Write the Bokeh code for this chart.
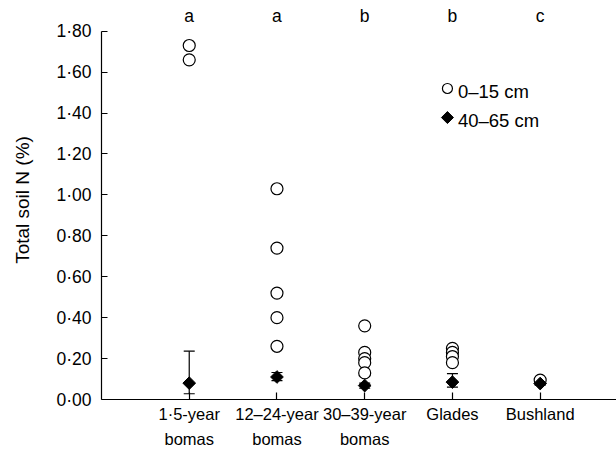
import numpy as np
from bokeh.plotting import figure
from bokeh.models import (Range1d, FixedTicker, CustomJSTickFormatter, ColumnDataSource,
                          Whisker, TeeHead)
from bokeh.core.properties import value
from bokeh.embed import file_html
from bokeh.resources import INLINE

# ---- data ----
categories = ["1·5-year\nbomas", "12–24-year\nbomas", "30–39-year\nbomas", "Glades", "Bushland"]
letters = ["a", "a", "b", "b", "c"]
shallow_0_15 = [
    [1.73, 1.66],
    [1.03, 0.74, 0.52, 0.40, 0.26],
    [0.36, 0.23, 0.20, 0.18, 0.13],
    [0.25, 0.23, 0.21, 0.18],
    [0.095],
]
deep_mean = [0.08, 0.11, 0.068, 0.085, 0.078]
deep_lower = [0.028, 0.092, 0.055, 0.060, 0.070]
deep_upper = [0.236, 0.132, 0.080, 0.126, 0.086]
legend_labels = ["0–15 cm", "40–65 cm"]
y_ticks = [0.0, 0.2, 0.4, 0.6, 0.8, 1.0, 1.2, 1.4, 1.6, 1.8]

FONT = "Liberation Sans"
TICK_FS = "17.5px"

xpos = list(range(1, len(categories) + 1))
sx, sy = [], []
for i, vals in enumerate(shallow_0_15):
    sx += [xpos[i]] * len(vals)
    sy += vals

p = figure(width=616, height=452, output_backend="svg", toolbar_location=None,
           x_range=Range1d(0, 5.87), y_range=Range1d(0, 1.95),
           min_border_left=101, min_border_right=0, min_border_top=0, min_border_bottom=53)
p.outline_line_color = None
p.grid.visible = False
p.background_fill_color = "white"

# error bars
err_src = ColumnDataSource(dict(x=xpos, lower=deep_lower, upper=deep_upper))
w = Whisker(base="x", lower="lower", upper="upper", source=err_src, line_color="black",
            line_width=1.2,
            upper_head=TeeHead(size=11, line_color="black", line_width=1.2),
            lower_head=TeeHead(size=11, line_color="black", line_width=1.2))
p.add_layout(w)

circle_style = dict(marker="circle", size=12, fill_color="white", line_color="black", line_width=1.2)
diamond_style = dict(marker="square", angle=np.pi / 4, size=9, fill_color="black",
                     line_color="black", line_width=1)

p.scatter(sx, sy, **circle_style)
p.scatter(xpos, deep_mean, **diamond_style)

# significance letters
p.text(xpos, [1.875] * len(xpos), text=letters, text_align="center", text_baseline="middle",
       text_font=value(FONT), text_font_size=TICK_FS, text_color="black")

# key (drawn in the plot area, upper right)
kx, ky, kdy = 3.943, 1.52, 0.142
p.scatter([kx], [ky], **{**circle_style, "size": 10})
p.scatter([kx], [ky - kdy], **{**diamond_style, "size": 8.5})
p.text([kx + 0.12, kx + 0.12], [ky - 0.015, ky - kdy - 0.015], text=legend_labels,
       text_align="left", text_baseline="middle", text_font=value(FONT),
       text_font_size="18.5px", text_color="black")

# axes
xa = p.xaxis[0]
xa.ticker = FixedTicker(ticks=xpos)
xa.major_label_overrides = {i: c for i, c in zip(xpos, categories)}
xa.major_tick_in = 7
xa.major_tick_out = 0
xa.minor_tick_line_color = None
xa.axis_line_width = 1.2
xa.major_tick_line_width = 1.2
xa.major_label_text_font = FONT
xa.major_label_text_font_size = "16.5px"
xa.major_label_text_line_height = 1.4
xa.major_label_standoff = 5
xa.major_label_text_color = "black"

ya = p.yaxis[0]
ya.ticker = FixedTicker(ticks=y_ticks)
ya.formatter = CustomJSTickFormatter(code="return tick.toFixed(2).replace('.', '\u00b7');")
ya.bounds = (0, 1.8)
ya.major_tick_in = 6
ya.major_tick_out = 0
ya.minor_tick_line_color = None
ya.axis_line_width = 1.2
ya.major_tick_line_width = 1.2
ya.major_label_text_font = FONT
ya.major_label_text_font_size = TICK_FS
ya.major_label_standoff = 10
ya.major_label_text_color = "black"
ya.axis_label = "Total soil N (%)"
ya.axis_label_text_font = FONT
ya.axis_label_text_font_size = "19px"
ya.axis_label_text_font_style = "normal"
ya.axis_label_standoff = 20
ya.axis_label_text_color = "black"

open("out.html", "w").write(file_html(p, INLINE))
